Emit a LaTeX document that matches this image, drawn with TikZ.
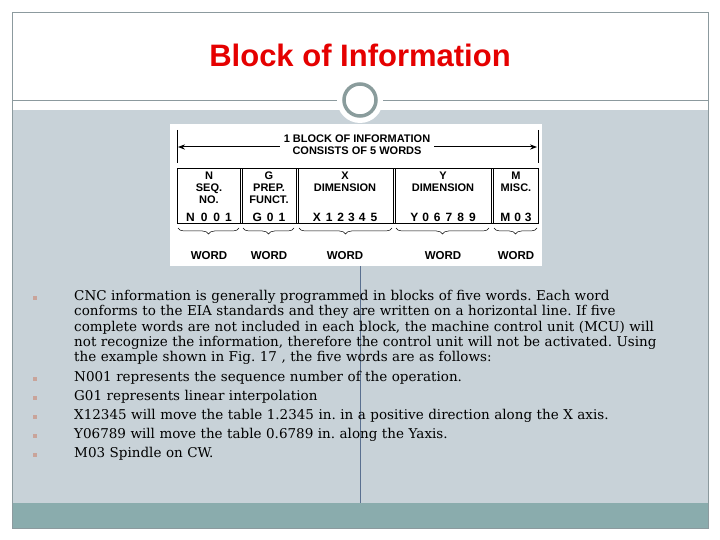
\documentclass[tikz,border=0pt]{standalone}
\usepackage{fontspec}
\setmainfont{DejaVu Serif}
\newfontfamily\arial{Liberation Sans}
\usetikzlibrary{decorations.pathreplacing,arrows.meta}
\definecolor{panel}{HTML}{C8D2D8}
\definecolor{teal}{HTML}{8AACAD}
\definecolor{frame}{HTML}{8C9A9E}
\definecolor{ring}{HTML}{8A9C9C}
\definecolor{bul}{HTML}{C9A49A}
\definecolor{vline}{HTML}{5A7090}
\frenchspacing
\begin{document}
\begin{tikzpicture}[x=1pt,y=-1pt,
  hd/.style={font=\arial\bfseries\fontsize{11}{11.8}\selectfont, align=center, inner sep=0pt},
  cd/.style={font=\arial\bfseries\fontsize{12}{12}\selectfont, inner sep=0pt},
  wd/.style={font=\arial\bfseries\fontsize{11.5}{12}\selectfont, inner sep=0pt},
  bt/.style={font=\fontsize{13.5}{15.3}\selectfont, anchor=north west, inner sep=0pt, align=left, text width=640pt},
  bu/.style={fill=bul, minimum size=3.5pt, inner sep=0pt}]
\useasboundingbox (0,0) rectangle (720,540);
\fill[white] (0,0) rectangle (720,540);
\fill[panel] (12,110) rectangle (708,503);
\fill[teal] (12,503) rectangle (708,528);
\draw[frame, line width=0.8pt] (12,12) rectangle (708,528);
\draw[frame, line width=0.8pt] (12,100) -- (708,100);
\node[font=\arial\bfseries\fontsize{31}{34}\selectfont, text=red!90!black] (title) at (360,55) {Block of Information};
\node[circle, fill=white, minimum size=46pt, inner sep=0pt] (ringbg) at (360,100) {};
\node[circle, draw=ring, line width=3.5pt, fill=white, minimum size=32pt, inner sep=0pt] (ring) at (360,100) {};
\draw[vline, line width=0.6pt] (360,266) -- (360,503);
% figure
\fill[white] (170,124) rectangle (542,266);
\draw[line width=1pt] (177,130) -- (177,163) (538,130) -- (538,163);
\node[hd, fill=white, inner xsep=4pt] (top) at (357,145) {1 BLOCK OF INFORMATION\\CONSISTS OF 5 WORDS};
\coordinate (la) at (178,147);
\coordinate (ra) at (537,147);
\draw[-{Stealth[length=7pt]}, line width=1pt] (top.west |- la) -- (la);
\draw[-{Stealth[length=7pt]}, line width=1pt] (top.east |- ra) -- (ra);
\draw[line width=1pt] (177,169) rectangle (538,224);
\foreach \x in {240.5,296,393.5,491}{\draw[line width=0.7pt] (\x,169) -- (\x,224) (\x+2.2,169) -- (\x+2.2,224);}
\node[hd, anchor=north] (h1) at (209,172) {N\\SEQ.\\NO.};
\node[hd, anchor=north] (h2) at (269,172) {G\\PREP.\\FUNCT.};
\node[hd, anchor=north] (h3) at (345,172) {X\\DIMENSION};
\node[hd, anchor=north] (h4) at (443,172) {Y\\DIMENSION};
\node[hd, anchor=north] (h5) at (516,172) {M\\MISC.};
\node[cd] (c1) at (209,217) {N\hspace{6pt}0\hspace{6pt}0\hspace{5pt}1};
\node[cd] (c2) at (269,217) {G\hspace{5pt}0\hspace{5pt}1};
\node[cd] (c3) at (345,217) {X\hspace{5pt}1\hspace{5pt}2\hspace{4pt}3\hspace{4pt}4\hspace{5pt}5};
\node[cd] (c4) at (443,217) {Y\hspace{4pt}0\hspace{5pt}6\hspace{5pt}7\hspace{5pt}8\hspace{5pt}9};
\node[cd] (c5) at (516,217) {M\hspace{4pt}0\hspace{4pt}3};
\foreach \a/\b in {178/239,243/294,299/392,396/489,494/537}{
  \draw[decorate, decoration={brace, mirror, amplitude=6pt}, line width=0.5pt] (\a,228) -- (\b,228);}
\foreach \x/\n in {209/w1,269/w2,345/w3,443/w4,516/w5}{\node[wd] (\n) at (\x,256) {WORD};}
% bullets
\foreach \y/\n in {298/b1,379/b2,398/b3,417/b4,436/b5,455/b6}{\node[bu] (\n) at (35,\y) {};}
\node[bt] (t1) at (74,290) {CNC information is generally programmed in blocks of five words. Each word\\conforms to the EIA standards and they are written on a horizontal line. If five\\complete words are not included in each block, the machine control unit (MCU) will\\not recognize the information, therefore the control unit will not be activated. Using\\the example shown in Fig. 17 , the five words are as follows:};
\node[bt] (t2) at (74,371) {N001 represents the sequence number of the operation.};
\node[bt] (t3) at (74,390) {G01 represents linear interpolation};
\node[bt] (t4) at (74,409) {X12345 will move the table 1.2345 in. in a positive direction along the X axis.};
\node[bt] (t5) at (74,428) {Y06789 will move the table 0.6789 in. along the Yaxis.};
\node[bt] (t6) at (74,447) {M03 Spindle on CW.};
\end{tikzpicture}
\end{document}
